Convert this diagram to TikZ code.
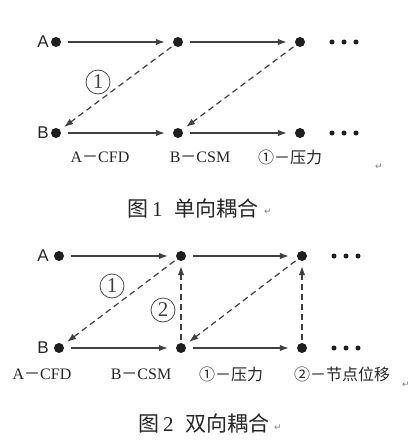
\documentclass[tikz,border=0pt]{standalone}
\usepackage{fontspec}
\setmainfont{Liberation Serif}
\newfontfamily\cjk{Noto Sans CJK SC}
\newfontfamily\arialf{Liberation Sans}
\newfontfamily\dvs{DejaVu Sans}
\usetikzlibrary{arrows.meta}
\begin{document}
\begin{tikzpicture}[x=1pt,y=-1pt,
  dotnode/.style={circle,fill=black!88,minimum size=10pt,inner sep=0pt},
  smalldot/.style={circle,fill=black!88,minimum size=5pt,inner sep=0pt},
  flow/.style={draw=black!75,line width=1.3pt,-{Latex[length=9pt,width=6.5pt]},shorten <=7pt,shorten >=8pt},
  couple/.style={draw=black!75,line width=1.2pt,dash pattern=on 6pt off 4pt,-{Latex[length=9pt,width=6.5pt]},shorten <=3pt,shorten >=5pt},
  letter/.style={font=\arialf\fontsize{17}{17}\selectfont,anchor=east,inner sep=0pt,text=black!85},
  circlab/.style={circle,draw=black!70,line width=0.8pt,minimum size=24pt,inner sep=0pt,font=\fontsize{21}{21}\selectfont,text=black!75},
  legend/.style={font=\fontsize{16}{16}\selectfont,inner sep=0pt,text=black!85},
  caption/.style={font=\fontsize{21}{21}\selectfont,anchor=west,inner sep=0pt,text=black!85},
  retmark/.style={font=\dvs\fontsize{9}{9}\selectfont,text=black!50,inner sep=0pt}
]
\fill[white] (0,0) rectangle (410,444);
\useasboundingbox (0,0) rectangle (410,444);

% ---------- Figure 1 ----------
\node[dotnode] (a1) at (56,42) {};
\node[dotnode] (a2) at (178,42) {};
\node[dotnode] (a3) at (300,42) {};
\node[dotnode] (b1) at (56,133) {};
\node[dotnode] (b2) at (178,133) {};
\node[dotnode] (b3) at (300,133) {};
\node[letter] (la) at (49,42) {A};
\node[letter] (lb) at (49,133) {B};
\node[smalldot] (ea1) at (332,42) {};
\node[smalldot] (ea2) at (344,42) {};
\node[smalldot] (ea3) at (356,42) {};
\node[smalldot] (eb1) at (332,133) {};
\node[smalldot] (eb2) at (344,133) {};
\node[smalldot] (eb3) at (356,133) {};
\draw[flow] (a1) -- (a2);
\draw[flow] (a2) -- (a3);
\draw[flow] (b1) -- (b2);
\draw[flow] (b2) -- (b3);
\draw[couple] (a2) -- (b1);
\draw[couple] (a3) -- (b2);
\node[circlab] (c1) at (98,82) {1};
\node[legend] (l1) at (100,157) {A{\cjk －}CFD};
\node[legend] (l2) at (200,157) {B{\cjk －}CSM};
\node[legend] (l3) at (290,157) {\cjk ①－压力};
\node[retmark] (r1) at (379,167) {↵};
\node[caption] (cap1) at (127,208) {{\cjk 图}\hspace{4pt}1\hspace{12pt}{\cjk 单向耦合}};
\node[retmark] (r2) at (268,212) {↵};

% ---------- Figure 2 ----------
\node[dotnode] (p1) at (59,256) {};
\node[dotnode] (p2) at (181,256) {};
\node[dotnode] (p3) at (302,256) {};
\node[dotnode] (q1) at (59,348) {};
\node[dotnode] (q2) at (181,348) {};
\node[dotnode] (q3) at (302,348) {};
\node[letter] (lp) at (49,256) {A};
\node[letter] (lq) at (49,348) {B};
\node[smalldot] (ep1) at (334,256) {};
\node[smalldot] (ep2) at (346,256) {};
\node[smalldot] (ep3) at (358,256) {};
\node[smalldot] (eq1) at (334,348) {};
\node[smalldot] (eq2) at (346,348) {};
\node[smalldot] (eq3) at (358,348) {};
\draw[flow] (p1) -- (p2);
\draw[flow] (p2) -- (p3);
\draw[flow] (q1) -- (q2);
\draw[flow] (q2) -- (q3);
\draw[couple] (p2) -- (q1);
\draw[couple] (p3) -- (q2);
\draw[couple] (q2) -- (p2);
\draw[couple] (q3) -- (p3);
\node[circlab] (c2) at (112,286) {1};
\node[circlab] (c3) at (163,310) {2};
\node[legend] (m1) at (42,374) {A{\cjk －}CFD};
\node[legend] (m2) at (141,374) {B{\cjk －}CSM};
\node[legend] (m3) at (231,374) {\cjk ①－压力};
\node[legend] (m4) at (342,374) {\cjk ②－节点位移};
\node[retmark] (r3) at (406,385) {↵};
\node[caption] (cap2) at (138,424) {{\cjk 图}\hspace{4pt}2\hspace{12pt}{\cjk 双向耦合}};
\node[retmark] (r4) at (278,428) {↵};
\end{tikzpicture}
\end{document}
